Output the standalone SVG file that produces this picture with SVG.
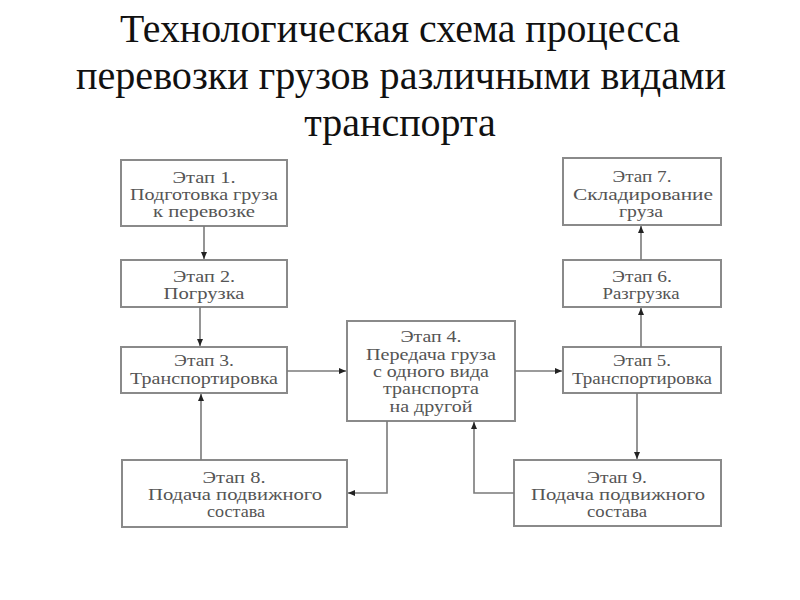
<svg xmlns="http://www.w3.org/2000/svg" width="800" height="600" viewBox="0 0 800 600">
<style>
.title{font-family:"Liberation Serif","DejaVu Serif",serif;font-size:40px;fill:#111;text-anchor:middle}
.box rect{fill:#fff;stroke:#8a8a8a;stroke-width:2}
.box text{font-family:"Liberation Serif","DejaVu Serif",serif;font-size:16px;fill:#555;text-anchor:middle}
.conn path{fill:none;stroke:#7a7a7a;stroke-width:1.6;marker-end:url(#ah)}
</style>
<defs>
<marker id="ah" markerWidth="8" markerHeight="8" refX="7" refY="4" orient="auto" markerUnits="userSpaceOnUse">
<path d="M0,1 L7,4 L0,7 Z" fill="#222"/>
</marker>
</defs>
<rect width="800" height="600" fill="#fff"/>
<text class="title" x="400" y="42" textLength="560" lengthAdjust="spacingAndGlyphs">Технологическая схема процесса</text>
<text class="title" x="401" y="89" textLength="650" lengthAdjust="spacingAndGlyphs">перевозки грузов различными видами</text>
<text class="title" x="400" y="136">транспорта</text>

<g id="n1" class="box"><rect x="121" y="160" width="166" height="66"/>
<text x="204" y="183" textLength="63" lengthAdjust="spacingAndGlyphs">Этап 1.</text><text x="204" y="200" textLength="148" lengthAdjust="spacingAndGlyphs">Подготовка груза</text><text x="204" y="217" textLength="102" lengthAdjust="spacingAndGlyphs">к перевозке</text></g>
<g id="n2" class="box"><rect x="121" y="260" width="166" height="47"/>
<text x="204" y="282" textLength="62" lengthAdjust="spacingAndGlyphs">Этап 2.</text><text x="204" y="299" textLength="81" lengthAdjust="spacingAndGlyphs">Погрузка</text></g>
<g id="n3" class="box"><rect x="121" y="347" width="166" height="46"/>
<text x="204" y="366" textLength="60" lengthAdjust="spacingAndGlyphs">Этап 3.</text><text x="204" y="384" textLength="148" lengthAdjust="spacingAndGlyphs">Транспортировка</text></g>
<g id="n4" class="box"><rect x="347" y="321" width="168" height="100"/>
<text x="431" y="342" textLength="61" lengthAdjust="spacingAndGlyphs">Этап 4.</text><text x="431" y="360" textLength="130" lengthAdjust="spacingAndGlyphs">Передача груза</text><text x="431" y="377" textLength="116" lengthAdjust="spacingAndGlyphs">с одного вида</text><text x="431" y="394" textLength="96" lengthAdjust="spacingAndGlyphs">транспорта</text><text x="431" y="412" textLength="83" lengthAdjust="spacingAndGlyphs">на другой</text></g>
<g id="n5" class="box"><rect x="563" y="347" width="158" height="46"/>
<text x="642" y="366" textLength="58" lengthAdjust="spacingAndGlyphs">Этап 5.</text><text x="642" y="384" textLength="140" lengthAdjust="spacingAndGlyphs">Транспортировка</text></g>
<g id="n6" class="box"><rect x="563" y="260" width="158" height="47"/>
<text x="642" y="282" textLength="60" lengthAdjust="spacingAndGlyphs">Этап 6.</text><text x="641" y="299" textLength="77" lengthAdjust="spacingAndGlyphs">Разгрузка</text></g>
<g id="n7" class="box"><rect x="563" y="158" width="158" height="67"/>
<text x="642" y="182" textLength="59" lengthAdjust="spacingAndGlyphs">Этап 7.</text><text x="643" y="200" textLength="140" lengthAdjust="spacingAndGlyphs">Складирование</text><text x="641" y="217" textLength="44" lengthAdjust="spacingAndGlyphs">груза</text></g>
<g id="n8" class="box"><rect x="122" y="460" width="225" height="67"/>
<text x="234" y="483" textLength="63" lengthAdjust="spacingAndGlyphs">Этап 8.</text><text x="235" y="500" textLength="174" lengthAdjust="spacingAndGlyphs">Подача подвижного</text><text x="236" y="517" textLength="58" lengthAdjust="spacingAndGlyphs">состава</text></g>
<g id="n9" class="box"><rect x="514" y="460" width="207" height="66"/>
<text x="617" y="483" textLength="60" lengthAdjust="spacingAndGlyphs">Этап 9.</text><text x="618" y="500" textLength="174" lengthAdjust="spacingAndGlyphs">Подача подвижного</text><text x="617" y="517" textLength="60" lengthAdjust="spacingAndGlyphs">состава</text></g>

<g id="connectors" class="conn">
<path d="M204,226 L204,259"/>
<path d="M200,307 L200,346"/>
<path d="M287,371 L346,371"/>
<path d="M515,371 L562,371"/>
<path d="M641,347 L641,308"/>
<path d="M641,260 L641,226"/>
<path d="M637,393 L637,459"/>
<path d="M201,460 L201,394"/>
<path d="M387,421 L387,493 L348,493"/>
<path d="M514,493 L474,493 L474,422"/>
</g>
</svg>
